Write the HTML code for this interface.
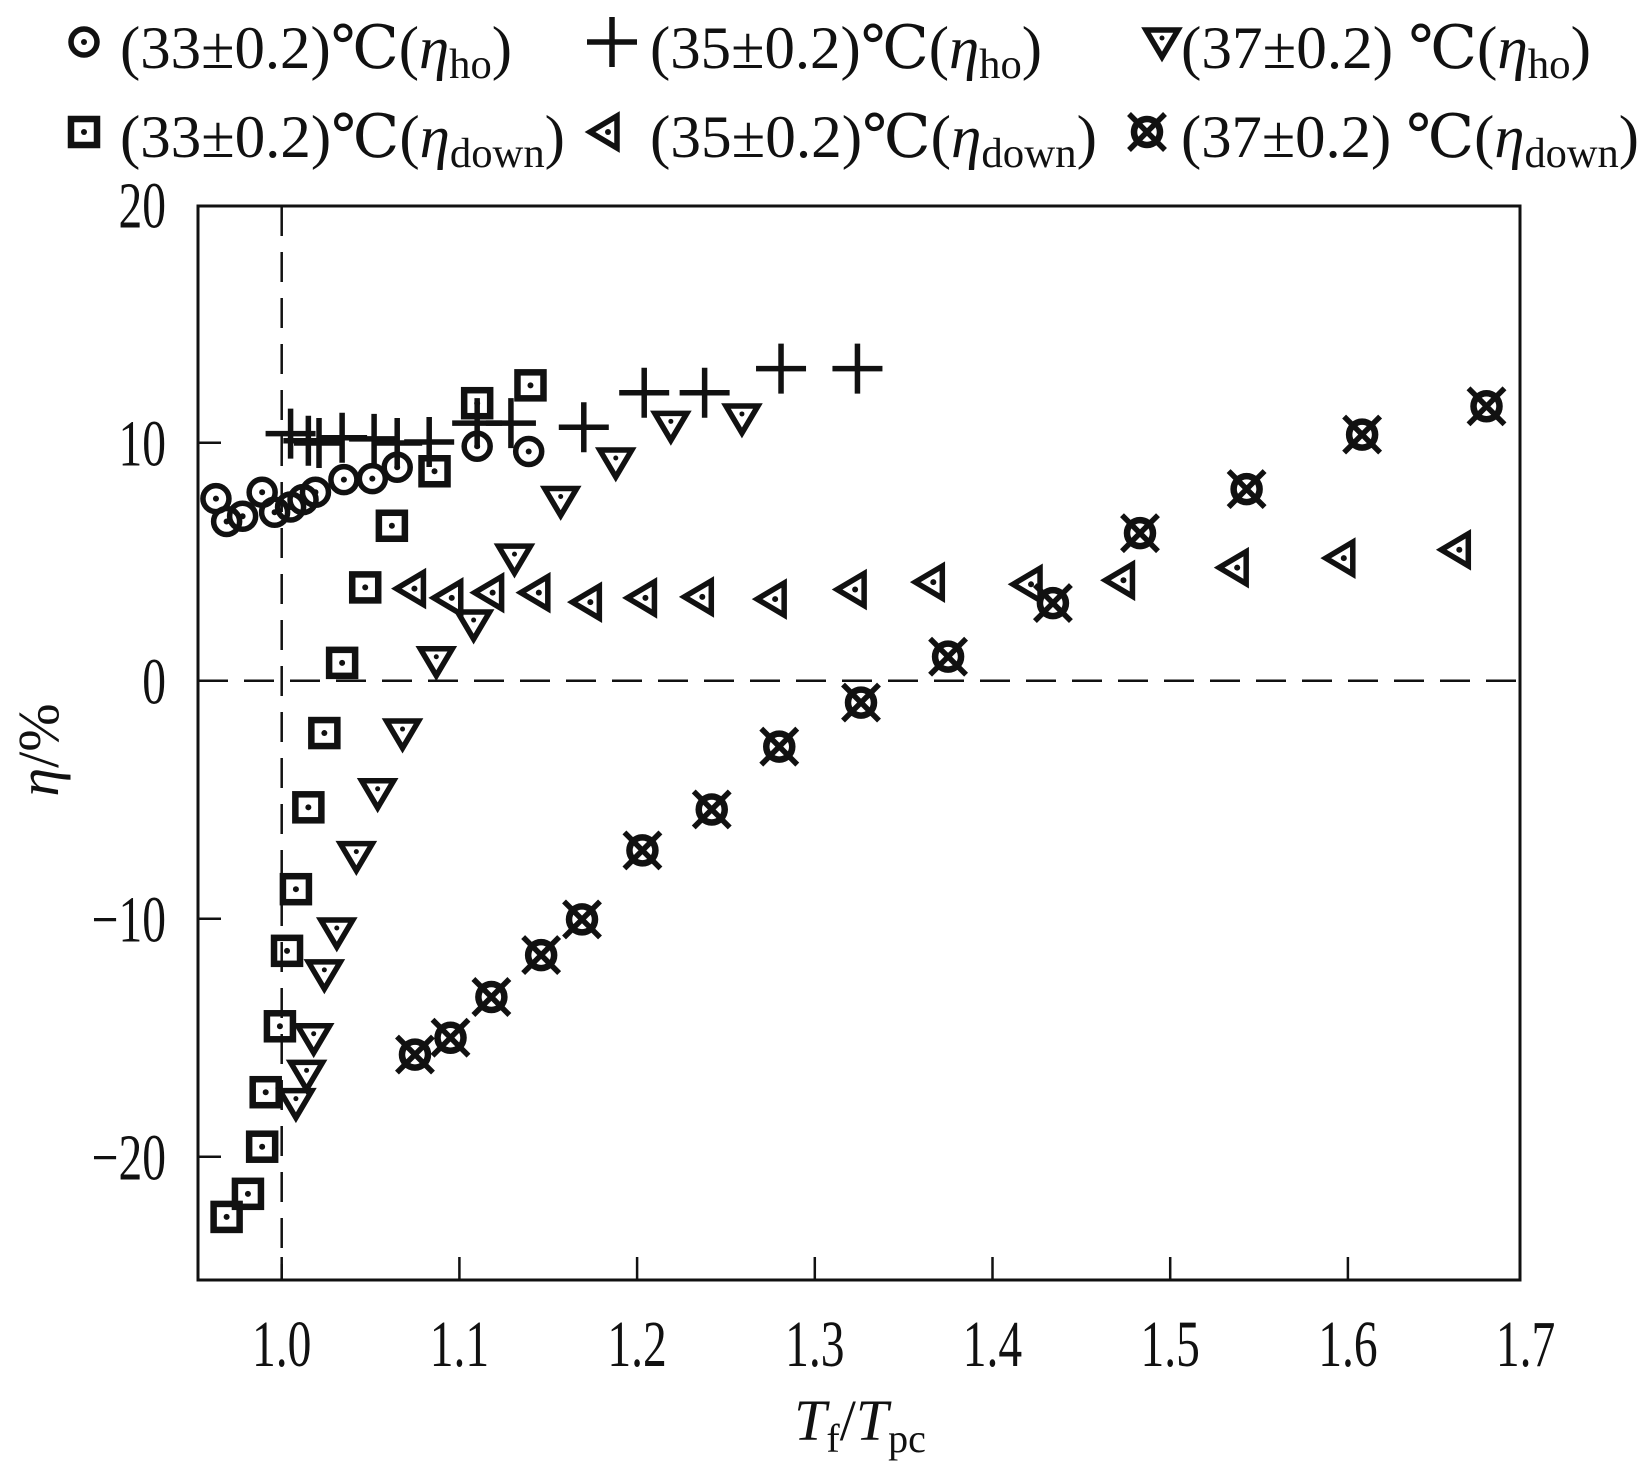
<!DOCTYPE html>
<html><head><meta charset="utf-8"><style>
html,body{margin:0;padding:0;background:#fff;}
svg{display:block;}
text{font-family:"Liberation Serif","DejaVu Serif",serif;fill:#111;}
</style></head><body>
<svg id="chart" width="1642" height="1473" viewBox="0 0 1642 1473" xmlns="http://www.w3.org/2000/svg">
<g id="legend"></g>
<g id="axes"></g>
<g id="marks"></g>
</svg>
<script>
const xTicks = [1.0,1.1,1.2,1.3,1.4,1.5,1.6,1.7];
const xTickLabels = ["1.0","1.1","1.2","1.3","1.4","1.5","1.6","1.7"];
const yTicks = [20,10,0,-10,-20];
const yTickLabels = ["20","10","0","\u221210","\u221220"];

const ho33X = [0.963,0.969,0.978,0.989,0.996,1.005,1.012,1.019,1.035,1.051,1.065,1.110,1.139];
const ho33Y = [7.65,6.69,6.91,7.92,7.08,7.30,7.61,7.92,8.45,8.49,8.97,9.85,9.63];
const ho35X = [1.005,1.015,1.021,1.034,1.052,1.065,1.083,1.110,1.129,1.170,1.204,1.238,1.281,1.324];
const ho35Y = [10.38,10.08,9.99,10.21,10.16,9.99,10.03,10.82,10.82,10.65,12.10,12.10,13.11,13.11];
const ho37X = [1.008,1.014,1.018,1.024,1.031,1.042,1.054,1.068,1.087,1.108,1.131,1.157,1.188,1.219,1.259];
const ho37Y = [-17.73,-16.54,-15.0,-12.32,-10.56,-7.35,-4.71,-2.20,0.84,2.38,5.15,7.57,9.19,10.73,11.04];
const dn33X = [0.969,0.981,0.989,0.991,0.999,1.003,1.008,1.015,1.024,1.034,1.047,1.062,1.086,1.110,1.140];
const dn33Y = [-22.53,-21.56,-19.58,-17.29,-14.52,-11.35,-8.76,-5.32,-2.20,0.75,3.92,6.51,8.80,11.66,12.41];
const dn35X = [1.073,1.094,1.117,1.143,1.172,1.203,1.235,1.276,1.321,1.365,1.420,1.472,1.536,1.596,1.661];
const dn35Y = [3.87,3.48,3.70,3.70,3.30,3.48,3.52,3.43,3.83,4.14,4.05,4.22,4.75,5.15,5.50];
const dn37X = [1.075,1.095,1.118,1.146,1.169,1.203,1.242,1.280,1.326,1.375,1.434,1.483,1.543,1.608,1.678];
const dn37Y = [-15.71,-15.0,-13.29,-11.53,-10.03,-7.13,-5.41,-2.77,-0.92,1.01,3.26,6.20,8.05,10.34,11.53];

const NS = "http://www.w3.org/2000/svg";
const L = 198, R = 1520, T = 206, B = 1280;
function sx(v){ return 281.7 + (v - 1.0) * 1777; }
function sy(v){ return 680.7 - v * 23.8; }
function el(tag, attrs, parent){
  const e = document.createElementNS(NS, tag);
  for (const k in attrs) e.setAttribute(k, attrs[k]);
  parent.appendChild(e);
  return e;
}
const axes = document.getElementById('axes');
const marks = document.getElementById('marks');
const legend = document.getElementById('legend');

const frame = el('rect', {x:L, y:T, width:R-L, height:B-T, fill:'none', stroke:'#111', 'stroke-width':3}, axes);


const vref = el('line', {x1:sx(1.0), x2:sx(1.0), y1:T, y2:B, stroke:'#111', 'stroke-width':2.5, 'stroke-dasharray':'30,16'}, axes);


const href = el('line', {x1:L, x2:R, y1:sy(0), y2:sy(0), stroke:'#111', 'stroke-width':2.5, 'stroke-dasharray':'30,16'}, axes);



xTicks.forEach((v,i)=>{
  const x = sx(v);
  if (x < R) {
    const t = el('line', {x1:x, x2:x, y1:B, y2:B-23, stroke:'#111', 'stroke-width':2.5}, axes);
    
    
  }
  const lb = el('text', {x:x, y:1366, 'font-size':66, 'text-anchor':'middle', transform:`translate(${x},0) scale(0.72,1) translate(${-x},0)`}, axes);
  lb.textContent = xTickLabels[i];
  
  
});
yTicks.forEach((v,i)=>{
  const y = sy(v);
  if (v < 20) {
    const t = el('line', {x1:L, x2:L+23, y1:y, y2:y, stroke:'#111', 'stroke-width':2.5}, axes);
    
    
  }
  const lb = el('text', {x:166, y:y+23, 'font-size':66, 'text-anchor':'end', transform:`translate(166,0) scale(0.72,1) translate(-166,0)`}, axes);
  lb.textContent = yTickLabels[i];
  
  
});
const xt = el('text', {x:860, y:1440, 'font-size':58, 'text-anchor':'middle'}, axes);
xt.innerHTML = '<tspan font-style="italic">T</tspan><tspan font-size="40" dy="12">f</tspan><tspan dy="-12">/</tspan><tspan font-style="italic">T</tspan><tspan font-size="40" dy="12">pc</tspan>';


const yt = el('text', {x:0, y:0, 'font-size':58, 'text-anchor':'middle', transform:'translate(58,750) rotate(-90)'}, axes);
yt.innerHTML = '<tspan font-style="italic">η</tspan>/%';



const SW = 5.5;
function circleDot(g,x,y){ el('circle',{cx:x,cy:y,r:13,fill:'none',stroke:'#111','stroke-width':SW},g); el('circle',{cx:x,cy:y,r:3,fill:'#111'},g); }
function plus(g,x,y){ el('path',{d:`M${x-25},${y}H${x+25}M${x},${y-25}V${y+25}`,stroke:'#111','stroke-width':SW,fill:'none'},g); }
function triDown(g,x,y){ el('path',{d:`M${x-16},${y-12}L${x+16},${y-12}L${x},${y+15}Z`,fill:'none',stroke:'#111','stroke-width':SW},g); el('circle',{cx:x,cy:y-4,r:2.5,fill:'#111'},g); }
function squareDot(g,x,y){ el('rect',{x:x-13,y:y-13,width:26,height:26,fill:'none',stroke:'#111','stroke-width':SW+1},g); el('circle',{cx:x,cy:y,r:3,fill:'#111'},g); }
function triLeft(g,x,y){ el('path',{d:`M${x-15},${y}L${x+12},${y-16}L${x+12},${y+16}Z`,fill:'none',stroke:'#111','stroke-width':SW},g); el('circle',{cx:x+3,cy:y,r:3,fill:'#111'},g); }
function crossCircle(g,x,y){ el('circle',{cx:x,cy:y,r:13,fill:'none',stroke:'#111','stroke-width':SW+1},g); el('path',{d:`M${x-18},${y-18}L${x+18},${y+18}M${x+18},${y-18}L${x-18},${y+18}`,stroke:'#111','stroke-width':SW},g); }

const series = [
  {xs:ho33X, ys:ho33Y, f:circleDot, name:'series-33c-ho'},
  {xs:dn33X, ys:dn33Y, f:squareDot, name:'series-33c-down'},
  {xs:ho35X, ys:ho35Y, f:plus, name:'series-35c-ho'},
  {xs:ho37X, ys:ho37Y, f:triDown, name:'series-37c-ho'},
  {xs:dn35X, ys:dn35Y, f:triLeft, name:'series-35c-down'},
  {xs:dn37X, ys:dn37Y, f:crossCircle, name:'series-37c-down'}
];
series.forEach(s=>{
  const sg = el('g',{},marks);
  
  
  s.xs.forEach((xv,i)=>{
    const g = el('g',{},sg);
    
    
    s.f(g, sx(xv), sy(s.ys[i]));
  });
});

const legItems = [
  {f:circleDot, mx:84, my:42, tx:120, ty:68, w:392, sub:'ho', lab:'(33±0.2)℃(', name:'legend-entry-33c-ho'},
  {f:plus, mx:612, my:42, tx:650, ty:68, w:392, sub:'ho', lab:'(35±0.2)℃(', name:'legend-entry-35c-ho'},
  {f:triDown, mx:1162, my:42, tx:1181, ty:68, w:410, sub:'ho', lab:'(37±0.2) ℃(', name:'legend-entry-37c-ho'},
  {f:squareDot, mx:84, my:132, tx:120, ty:157, w:445, sub:'down', lab:'(33±0.2)℃(', name:'legend-entry-33c-down'},
  {f:triLeft, mx:605, my:132, tx:650, ty:157, w:447, sub:'down', lab:'(35±0.2)℃(', name:'legend-entry-35c-down'},
  {f:crossCircle, mx:1147, my:132, tx:1181, ty:157, w:458, sub:'down', lab:'(37±0.2) ℃(', name:'legend-entry-37c-down'}
];
legItems.forEach(it=>{
  const g = el('g',{},legend);
  
  
  it.f(g, it.mx, it.my);
  const t = el('text',{x:it.tx, y:it.ty, 'font-size':60, textLength:it.w, lengthAdjust:'spacingAndGlyphs'}, g);
  t.innerHTML = it.lab + '<tspan font-style="italic">η</tspan><tspan font-size="42" dy="10">' + it.sub + '</tspan><tspan dy="-10">)</tspan>';
});
</script>
</body></html>
